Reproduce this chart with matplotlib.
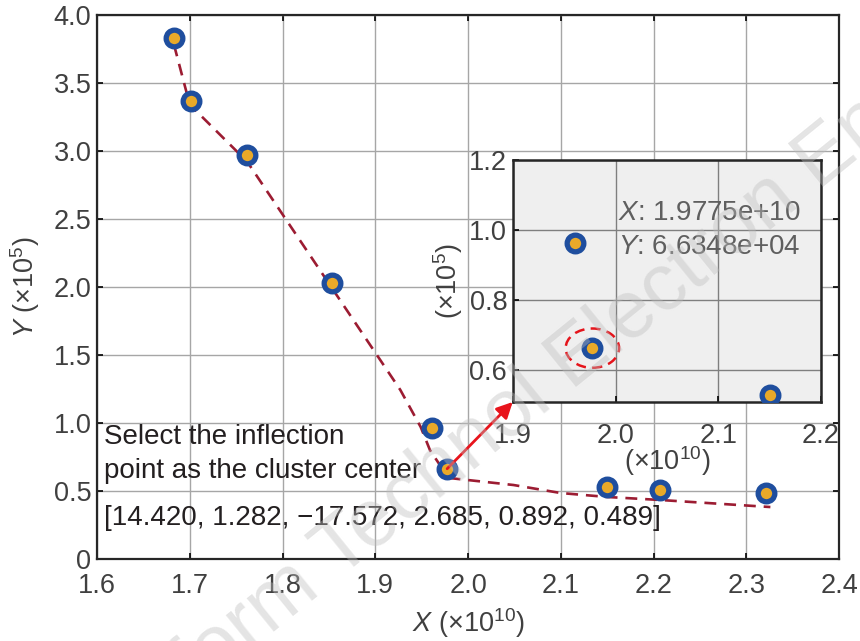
## plot.py - inflection point selection (cluster center)
import numpy as np
import matplotlib
matplotlib.use('Agg')
import matplotlib.pyplot as plt
from matplotlib.patches import Ellipse

plt.rcParams['font.family'] = ['Liberation Sans', 'DejaVu Sans']
plt.rcParams['mathtext.fontset'] = 'custom'
plt.rcParams['mathtext.rm'] = 'Liberation Sans'
plt.rcParams['mathtext.it'] = 'Liberation Sans:italic'

#%% DATA
# sample points (x in 1e10, y in 1e5)
px = [1.683, 1.701, 1.762, 1.853, 1.961, 1.9775, 2.150, 2.207, 2.321]
py = [3.83, 3.37, 2.97, 2.03, 0.963, 0.66348, 0.530, 0.507, 0.485]
# fitted curve, two pieces
fit1_x = [1.683, 1.700, 1.762, 1.851, 1.927, 1.949, 1.959, 1.979]
fit1_y = [3.78, 3.34, 2.92, 2.015, 1.243, 0.97, 0.80, 0.596]
fit2_x = [1.979, 2.049, 2.100, 2.150, 2.207, 2.326]
fit2_y = [0.596, 0.544, 0.485, 0.456, 0.434, 0.382]
# chosen center
cx, cy = 1.9775, 0.66348
params = [14.420, 1.282, -17.572, 2.685, 0.892, 0.489]

#%% STYLE
blue = '#1f4e9e'
orange = '#e9a929'
dark_red = '#9c1c32'
tick_col = '#404040'
txt_col = '#231f20'
grid_col = '#a6a6a6'
fs_tick = 19.5
fs_txt = 20

fig = plt.figure(figsize=(8.6, 6.41), dpi=100)
ax = fig.add_axes([0.1128, 0.1279, 0.8628, 0.849])

ax.plot(fit1_x, fit1_y, color=dark_red, lw=1.9, ls=(0, (4.5, 3)), zorder=2)
ax.plot(fit2_x, fit2_y, color=dark_red, lw=1.9, ls=(0, (4.5, 3)), zorder=2)
ax.plot(px, py, 'o', ms=12, mfc=orange, mec=blue, mew=3.8, ls='none', zorder=3)

ax.set_xlim(1.6, 2.4)
ax.set_ylim(0, 4.0)
ax.set_xticks(np.arange(1.6, 2.41, 0.1))
ax.set_yticks(np.arange(0, 4.01, 0.5))
ax.set_xticklabels(['%.1f' % v for v in np.arange(1.6, 2.41, 0.1)])
ax.set_yticklabels(['0'] + ['%.1f' % v for v in np.arange(0.5, 4.01, 0.5)])
ax.grid(True, color=grid_col, lw=1.0)
ax.set_axisbelow(True)
ax.tick_params(direction='in', length=4, width=1.2, top=True, right=True,
               labelsize=fs_tick, labelcolor=tick_col, pad=4)
ax.tick_params(axis='x', pad=10)
for s in ax.spines.values():
    s.set_linewidth(1.6)
    s.set_color('#262626')

ax.set_xlabel(r'$X$ (×10$^{10}$)', fontsize=19.5, color=tick_col, labelpad=5)
ax.set_ylabel(r'$Y$ (×10$^{5}$)', fontsize=19.5, color=tick_col, labelpad=8)

ax.text(1.607, 0.775, 'Select the inflection\npoint as the cluster center',
        fontsize=fs_txt, color=txt_col, va='center', ha='left', linespacing=1.4)
ax.text(1.607, 0.30, '[' + ', '.join('%.3f' % v for v in params).replace('-', '\u2212') + ']',
        fontsize=fs_txt, color=txt_col, va='center', ha='left')

#%% INSET
axins = fig.add_axes([0.5962, 0.3729, 0.3585, 0.3775])
axins.set_facecolor('#efefef')
ins_x = [x for x in px if 1.9 <= x <= 2.2]
ins_y = [y for x, y in zip(px, py) if 1.9 <= x <= 2.2]
axins.plot(ins_x, ins_y, 'o', ms=12, mfc=orange, mec=blue, mew=3.8, ls='none', zorder=3)
axins.set_xlim(1.9, 2.2)
axins.set_ylim(0.51, 1.2)
axins.set_xticks([1.9, 2.0, 2.1, 2.2])
axins.set_yticks([0.6, 0.8, 1.0, 1.2])
axins.grid(True, color='#7f7f7f', lw=1.0)
axins.set_axisbelow(True)
axins.tick_params(direction='in', length=4, width=1.2, labelsize=fs_tick,
                  labelcolor=tick_col, pad=4)
axins.tick_params(axis='x', pad=15)
for s in axins.spines.values():
    s.set_linewidth(1.8)
    s.set_color('#262626')
axins.set_xlabel(r'(×10$^{10}$)', fontsize=19.5, color=tick_col, labelpad=-3)
axins.set_ylabel(r'(×10$^{5}$)', fontsize=19.5, color=tick_col, labelpad=3)
axins.text(2.002, 1.0, r'$X$: 1.9775e+10' + '\n' + r'$Y$: 6.6348e+04',
           fontsize=fs_txt, color='#5f5f5f', va='center', ha='left', linespacing=1.4)
axins.add_patch(Ellipse((cx, cy), 0.052, 0.112, fill=False, ec='#e5141b',
                        lw=1.8, ls=(0, (4, 2.5)), zorder=4))

# arrow from the chosen point to the inset corner
ax.annotate('', xy=(0, 0), xycoords=axins.transAxes, xytext=(cx, cy), textcoords='data',
            arrowprops=dict(arrowstyle='-|>', color='#e8141c', lw=2, mutation_scale=24,
                            shrinkA=0, shrinkB=0), zorder=5)

# watermark
fig.text(0.515, 0.27, 'Front Inform Technol Electron Eng', rotation=39, ha='center',
         va='center', fontsize=58, color='#bdbdbd', alpha=0.4, zorder=10)

fig.savefig('out.png', dpi=100)
